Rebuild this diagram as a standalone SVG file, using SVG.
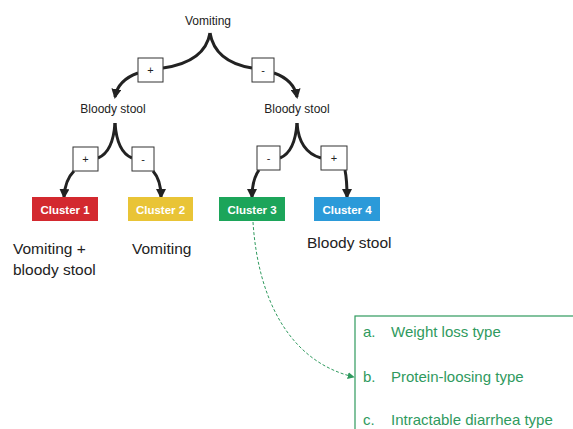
<svg xmlns="http://www.w3.org/2000/svg" width="573" height="429" viewBox="0 0 573 429">
<style>
.lbl{font-family:"Liberation Sans",Arial,sans-serif;font-size:12px;fill:#222;text-anchor:middle}
.big{font-family:"Liberation Sans",Arial,sans-serif;font-size:15.5px;fill:#222}
.sign{font-family:"Liberation Sans",Arial,sans-serif;font-size:11px;fill:#222;text-anchor:middle}
.cl{font-family:"Liberation Sans",Arial,sans-serif;font-size:11.5px;font-weight:bold;fill:#fff;text-anchor:middle}
.item{font-family:"Liberation Sans",Arial,sans-serif;font-size:15px;fill:#2f9a5e}
.edge{fill:none;stroke:#222;stroke-width:3}
.sbox{fill:#fff;stroke:#333;stroke-width:1}
</style>
<defs>
<marker id="ah" markerUnits="userSpaceOnUse" markerWidth="10" markerHeight="10" viewBox="0 0 10 10" refX="8" refY="5" orient="auto">
<path d="M0,0 L10,5 L0,10 z" fill="#222"/>
</marker>
<marker id="gh" markerUnits="userSpaceOnUse" markerWidth="7" markerHeight="7" viewBox="0 0 10 10" refX="9" refY="5" orient="auto">
<path d="M0,0 L10,5 L0,10 z" fill="#2f9a5e"/>
</marker>
</defs>
<rect width="573" height="429" fill="#fff"/>
<g id="connectors">
<path class="edge" d="M210,33 Q205,62 163,68"/>
<path class="edge" d="M210,33 Q215,62 252,68"/>
<path class="edge" d="M138,73 Q118,80 115,97" marker-end="url(#ah)"/>
<path class="edge" d="M274,73 Q294,80 297,97" marker-end="url(#ah)"/>
<path class="edge" d="M115,123 Q113,152 98,158"/>
<path class="edge" d="M115,123 Q117,152 132,158"/>
<path class="edge" d="M74,171 Q65,180 64,197" marker-end="url(#ah)"/>
<path class="edge" d="M153,171 Q161,180 161,197" marker-end="url(#ah)"/>
<path class="edge" d="M297,123 Q295,152 280,158"/>
<path class="edge" d="M297,123 Q299,152 321,158"/>
<path class="edge" d="M259,170 Q252,180 252,197" marker-end="url(#ah)"/>
<path class="edge" d="M345,170 Q347,180 347,197" marker-end="url(#ah)"/>
<path d="M253,222 C258,300 290,362 354,377" fill="none" stroke="#2f9a5e" stroke-width="1" stroke-dasharray="3,2" marker-end="url(#gh)"/>
</g>
<g id="vomiting"><text class="lbl" x="208" y="25">Vomiting</text></g>
<g id="sign-plus-1"><rect class="sbox" x="138" y="58" width="25" height="24"/><text class="sign" x="150.5" y="74">+</text></g>
<g id="sign-minus-1"><rect class="sbox" x="252" y="58" width="22" height="24"/><text class="sign" x="263" y="74">-</text></g>
<g id="bloody-left"><text class="lbl" x="113" y="113">Bloody stool</text></g>
<g id="bloody-right"><text class="lbl" x="297" y="113">Bloody stool</text></g>
<g id="sign-plus-2"><rect class="sbox" x="73" y="147" width="25" height="24"/><text class="sign" x="85.5" y="163">+</text></g>
<g id="sign-minus-2"><rect class="sbox" x="132" y="147" width="22" height="24"/><text class="sign" x="143" y="163">-</text></g>
<g id="sign-minus-3"><rect class="sbox" x="257" y="146" width="23" height="24"/><text class="sign" x="268.5" y="162">-</text></g>
<g id="sign-plus-3"><rect class="sbox" x="321" y="146" width="26" height="24"/><text class="sign" x="334" y="162">+</text></g>
<g id="cluster1"><rect x="32" y="197" width="66" height="24" fill="#d3292f"/><text class="cl" x="65" y="213.5">Cluster 1</text></g>
<g id="cluster2"><rect x="128" y="197" width="65" height="24" fill="#e9c436"/><text class="cl" x="160.5" y="213.5">Cluster 2</text></g>
<g id="cluster3"><rect x="219" y="197" width="66" height="24" fill="#1ca55a"/><text class="cl" x="252" y="213.5">Cluster 3</text></g>
<g id="cluster4"><rect x="314" y="197" width="66" height="24" fill="#2b9ad9"/><text class="cl" x="347" y="213.5">Cluster 4</text></g>
<g id="desc1"><text class="big" x="13" y="254">Vomiting +</text><text class="big" x="13" y="275">bloody stool</text></g>
<g id="desc2"><text class="big" x="132" y="254">Vomiting</text></g>
<g id="desc4"><text class="big" x="307" y="248">Bloody stool</text></g>
<g id="types">
<rect x="355" y="316" width="240" height="140" fill="none" stroke="#2f9a5e" stroke-width="1.2"/>
<text class="item" x="363" y="337">a.</text><text class="item" x="391" y="337">Weight loss type</text>
<text class="item" x="363" y="382">b.</text><text class="item" x="391" y="382">Protein-loosing type</text>
<text class="item" x="363" y="425">c.</text><text class="item" x="391" y="425">Intractable diarrhea type</text>
</g>
</svg>
